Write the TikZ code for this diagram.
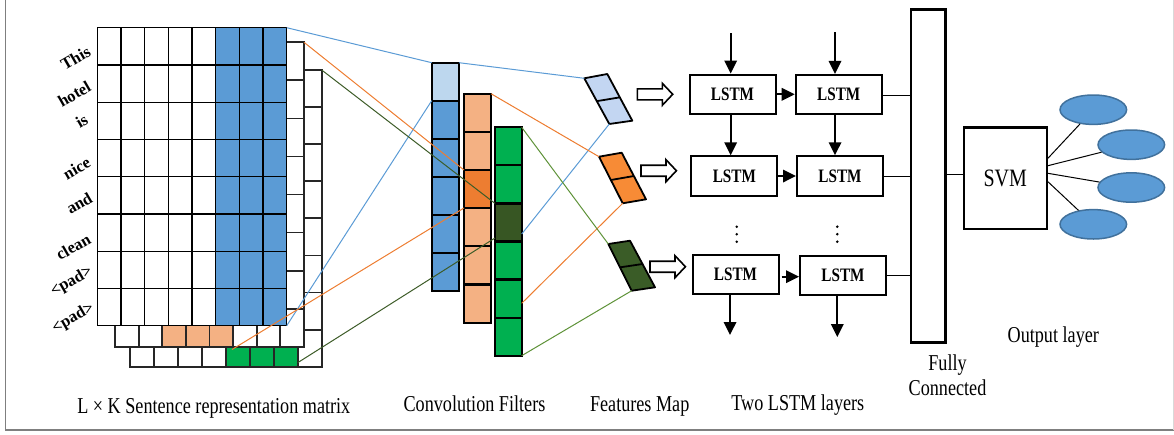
\documentclass[tikz,border=0pt]{standalone}
\usepackage{fontspec}
\setmainfont{Liberation Serif}[FakeStretch=0.8]
\newfontfamily\wordfont{Liberation Serif}
\usetikzlibrary{arrows.meta,calc,shapes.geometric}

\definecolor{cellblue}{HTML}{5B9BD5}
\definecolor{paleblue}{HTML}{BDD7EE}
\definecolor{fmblue}{HTML}{C3D6F2}
\definecolor{peach}{HTML}{F4B183}
\definecolor{deeporange}{HTML}{ED7D31}
\definecolor{fmorange}{HTML}{F78B36}
\definecolor{brightgreen}{HTML}{00B050}
\definecolor{darkgreen}{HTML}{375623}
\definecolor{fmgreen}{HTML}{3A5C27}
\definecolor{linkblue}{HTML}{5B9BD5}
\definecolor{linkorange}{HTML}{ED7D31}
\definecolor{linkdkgreen}{HTML}{3D5C28}
\definecolor{linkgreen}{HTML}{5E9238}
\definecolor{ovalline}{HTML}{41719C}
\definecolor{framegray}{HTML}{7F7F7F}

\begin{document}
\begin{tikzpicture}[x=1pt,y=-1pt,
  gridA/.style={draw=black,line width=1.3pt,line cap=rect},
  gridB/.style={draw=black!85,line width=1.8pt,line cap=rect},
  filtcell/.style={draw=black,line width=2.2pt},
  fmap/.style={draw=black,line width=1.8pt,line join=round},
  link/.style={line width=1pt},
  lstm/.style={draw,line width=2pt,minimum width=86pt,minimum height=39.5pt,inner sep=0pt,font=\fontsize{19}{20}\selectfont\bfseries},
  arr/.style={line width=1.8pt,-{Triangle[length=13pt,width=12.5pt]}},
  word/.style={font=\wordfont\bfseries\fontsize{16.5}{18}\selectfont,inner sep=0pt,rotate=30},
  lbl/.style={font=\fontsize{22.7}{25}\selectfont,inner sep=0pt},
  oval/.style={ellipse,draw=ovalline,line width=1.5pt,fill=cellblue,minimum width=66.6pt,minimum height=29.4pt,inner sep=0pt},
  thin/.style={line width=1pt},
  vdot/.style={fill=black,radius=1.4pt},
  hollowarr/.pic={\draw[line width=1.6pt,fill=white] (0,-5.5) -- (25,-5.5) -- (25,-11) -- (35.4,0) -- (25,11) -- (25,5.5) -- (0,5.5) -- cycle;}
]
\useasboundingbox (0,0) rectangle (1174,434);

% frame
\draw[framegray,line width=1.5pt] (5.3,0) -- (5.3,430) -- (1174,430);
\draw[black!15,line width=1pt] (1173,0) -- (1173,430);

% sentence matrix, third (back) layer
\fill[white] (130,70) rectangle (321.7,366.7);
\fill[brightgreen] ({130+4*23.96},{70+7*37.09}) rectangle ({130+7*23.96},366.7);
\foreach \i in {0,...,8}{
  \draw[gridB] ({130+23.96*\i},70) -- ({130+23.96*\i},366.7);
  \draw[gridB] (130,{70+37.09*\i}) -- (321.7,{70+37.09*\i});
}
% second layer
\fill[white] (115,42.3) rectangle (304,346.7);
\fill[peach] ({115+2*23.625},{42.3+7*38.05}) rectangle ({115+5*23.625},346.7);
\foreach \i in {0,...,8}{
  \draw[gridB] ({115+23.625*\i},42.3) -- ({115+23.625*\i},346.7);
  \draw[gridB] (115,{42.3+38.05*\i}) -- (304,{42.3+38.05*\i});
}
% front layer
\fill[white] (97.3,27.7) rectangle (286.7,325.7);
\fill[cellblue] ({97.3+5*23.675},27.7) rectangle (286.7,325.7);
\foreach \i in {0,...,8}{
  \draw[gridA] ({97.3+23.675*\i},27.7) -- ({97.3+23.675*\i},325.7);
  \draw[gridA] (97.3,{27.7+37.25*\i}) -- (286.7,{27.7+37.25*\i});
}

% words of the sentence
\node[word] (w1) at (75.5,58.3) {This};
\node[word] (w2) at (74.3,94) {hotel};
\node[word] (w3) at (81.7,120.7) {is};
\node[word] (w4) at (76.7,168.3) {nice};
\node[word] (w5) at (79.3,203.3) {and};
\node[word] (w6) at (73.3,246.7) {clean};
\node[word] (w7) at (71.7,281.7) {<pad>};
\node[word] (w8) at (73.3,318.3) {<pad>};

% convolution filters
\foreach \i/\c in {0/paleblue,1/cellblue,2/cellblue,3/cellblue,4/cellblue,5/cellblue}
  \filldraw[filtcell,fill=\c] (431.7,{62.7+38*\i}) rectangle (459,{62.7+38*(\i+1)});
\foreach \i/\c in {0/peach,1/peach,2/deeporange,3/peach,4/peach,5/peach}
  \filldraw[filtcell,fill=\c] (464,{93.7+38.17*\i}) rectangle (491,{93.7+38.17*(\i+1)});
\foreach \i/\c in {0/brightgreen,1/brightgreen,2/darkgreen,3/brightgreen,4/brightgreen,5/brightgreen}
  \filldraw[filtcell,fill=\c] (495,{127.3+38.07*\i}) rectangle (521.7,{127.3+38.07*(\i+1)});

% feature maps
\path (584.3,78.3) coordinate (f1tl) ++(23,-4.3) coordinate (f1tr) ++(25,46.7) coordinate (f1br) ++(-23,3.3) coordinate (f1bl);
\path (599,156.7) coordinate (f2tl) ++(22.7,-4) coordinate (f2tr) ++(24.3,46.6) coordinate (f2br) ++(-23.3,4) coordinate (f2bl);
\path (608.3,244) coordinate (f3tl) ++(21.7,-3.3) coordinate (f3tr) ++(25,46.6) coordinate (f3br) ++(-23.3,3.4) coordinate (f3bl);
\foreach \f/\c in {f1/fmblue,f2/fmorange,f3/fmgreen}{
  \filldraw[fmap,fill=\c] (\f tl) -- (\f tr) -- (\f br) -- (\f bl) -- cycle;
  \draw[fmap] ($(\f tl)!.5!(\f bl)$) -- ($(\f tr)!.5!(\f br)$);
}

% end points of the links
\coordinate (m1tr) at (286.7,27.7);
\coordinate (m1br) at (286.7,325.7);
\coordinate (m2tr) at (304,42.3);
\coordinate (m2bo) at (232,349.5);
\coordinate (m3tr) at (321.7,70);
\coordinate (m3bg) at (298,362.5);
\coordinate (fbtl) at (431.7,62.7);
\coordinate (fbtr) at (459,62.7);
\coordinate (fbc2) at (431.7,100.7);
\coordinate (fotr) at (491,93.7);
\coordinate (fodt) at (464,170);
\coordinate (fodb) at (464,208);
\coordinate (fgtr) at (521.7,127.3);
\coordinate (fgbr) at (521.7,355.7);
\coordinate (fgdt) at (495,203.4);
\coordinate (fgdb) at (495,238);
\coordinate (fgdr) at (521.7,234);
\coordinate (fgr5) at (521.7,303.3);

% links
\draw[link,linkblue] (m1tr) -- (fbtl);
\draw[link,linkblue] (m1br) -- (fbc2);
\draw[link,linkblue] (fbtr) -- (f1tl);
\draw[link,linkblue] (fgdr) -- (f1bl);
\draw[link,linkorange] (m2tr) -- (fodt);
\draw[link,linkorange] (m2bo) -- (fodb);
\draw[link,linkorange] (fotr) -- (f2tl);
\draw[link,linkorange] (fgr5) -- (f2bl);
\draw[link,linkdkgreen] (m3tr) -- (fgdt);
\draw[link,linkdkgreen] (m3bg) -- (fgdb);
\draw[link,linkgreen] (fgtr) -- (f3tl);
\draw[link,linkgreen] (fgbr) -- (f3bl);

% hollow arrows into the LSTM layers
\pic at (637.3,94.3) {hollowarr};
\pic at (641,170.7) {hollowarr};
\pic at (650,266.7) {hollowarr};

% LSTM cells
\node[lstm] (r1c1) at (732.5,94.3) {LSTM};
\node[lstm] (r1c2) at (838.7,94.7) {LSTM};
\node[lstm] (r2c1) at (734.3,176) {LSTM};
\node[lstm] (r2c2) at (840,176) {LSTM};
\node[lstm] (r3c1) at (735.5,274.7) {LSTM};
\node[lstm] (r3c2) at (843,275.3) {LSTM};

\coordinate (in1) at (730.7,33);
\coordinate (in2) at (835,32.3);
\coordinate (out1) at (730,335);
\coordinate (out2) at (837.3,337);
\draw[arr] (in1) -- (in1 |- r1c1.north);
\draw[arr] (in2) -- (in2 |- r1c2.north);
\draw[arr] (r1c1.south -| in1) -- (r2c1.north -| in1);
\draw[arr] (r1c2.south -| in2) -- (r2c2.north -| in2);
\draw[arr] (out1 |- r3c1.south) -- (out1);
\draw[arr] (out2 |- r3c2.south) -- (out2);
\draw[arr] (r1c1.east) -- (r1c1.east -| r1c2.west);
\draw[arr] (r2c1.east) -- (r2c1.east -| r2c2.west);
\draw[arr] ([xshift=2pt,yshift=-2pt]r3c1.east) -- ([yshift=-2pt]r3c1.east -| r3c2.west);

% vertical ellipses between the rows
\foreach \x in {736.7,837.3}
  \foreach \y in {226.7,234.2,241.7}
    \fill[vdot] (\x,\y) circle;

% fully connected layer
\node[draw,line width=2.4pt,minimum width=34.6pt,minimum height=333pt,inner sep=0pt] (fc) at (928,175.8) {};
\draw[thin] ([yshift=-0.3pt]r1c2.east) -- ([yshift=-0.3pt]r1c2.east -| fc.west);
\draw[thin] (r2c2.east) -- (r2c2.east -| fc.west);
\draw[thin] (r3c2.east) -- ([xshift=2.5pt]r3c2.east -| fc.west);

% SVM and the output layer
\node[draw,line width=2.4pt,minimum width=83pt,minimum height=101.3pt,inner sep=0pt,font=\fontsize{25}{25}\selectfont] (svm) at (1005.2,178.3) {SVM};
\draw[thin] ([yshift=4pt]svm.west) -- ([yshift=4pt]svm.west -| fc.east);
\node[oval] (e1) at (1093.3,109.7) {};
\node[oval] (e2) at (1131.3,144.7) {};
\node[oval] (e3) at (1131.3,187.5) {};
\node[oval] (e4) at (1093.3,224.3) {};
\draw[thin] ([yshift=20pt]svm.east) -- (e1);
\draw[thin] ([yshift=12.6pt]svm.east) -- (e2);
\draw[thin] ([yshift=5pt]svm.east) -- (e3);
\draw[thin] ([yshift=-3.4pt]svm.east) -- (e4);

% captions
\node[lbl,anchor=base] (capm) at (213.8,413) {L × K Sentence representation matrix};
\node[lbl,anchor=base] (capc) at (474.5,411.7) {Convolution Filters};
\node[lbl,anchor=base] (capf) at (639.7,411.7) {Features Map};
\node[lbl,anchor=base] (capl) at (797.8,410.7) {Two LSTM layers};
\node[lbl,anchor=base,align=center] (capfc) at (947.5,395) {Fully\\Connected};
\node[lbl,anchor=base] (capo) at (1053.3,342.7) {Output layer};
\end{tikzpicture}
\end{document}
